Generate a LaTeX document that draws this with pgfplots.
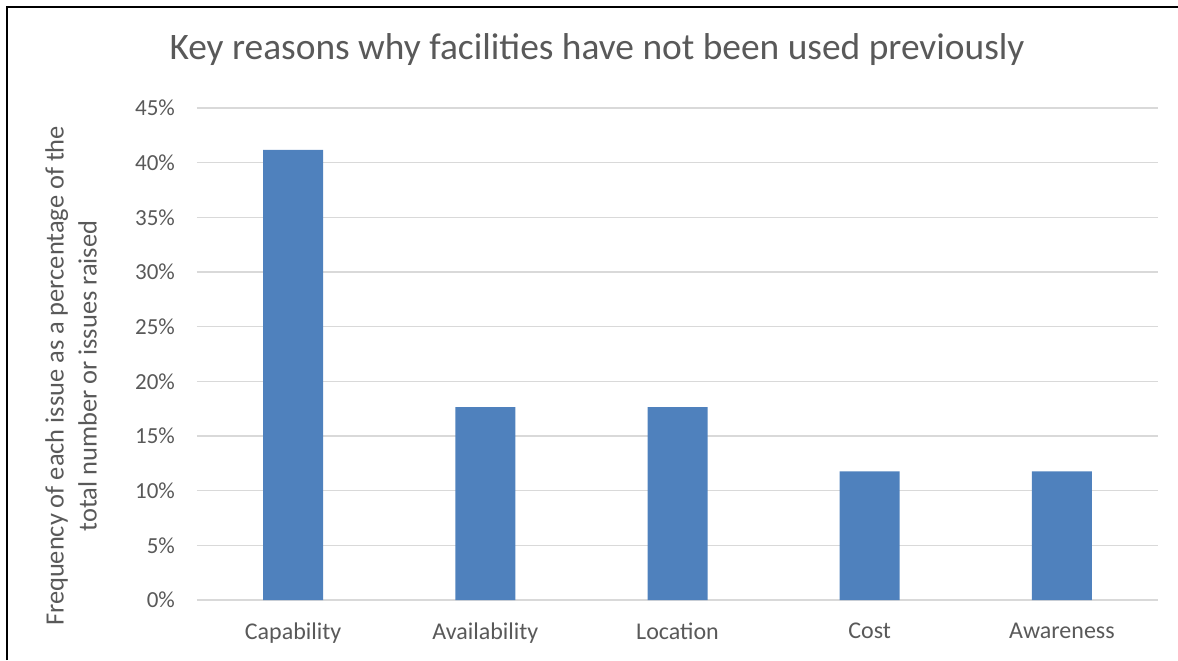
\documentclass[border=0pt]{standalone}
\usepackage{pgfplots}
\pgfplotsset{compat=1.18}
\usepackage{fontspec}
\setmainfont{Carlito}
\definecolor{barblue}{HTML}{4F81BD}
\definecolor{txtgray}{HTML}{595959}
\definecolor{gridgray}{HTML}{D9D9D9}

\begin{document}
\begin{tikzpicture}
    % picture frame in px scale (1px = 0.5pt), axis origin at (197,600)px
    \useasboundingbox (-98.5pt,-30pt) rectangle (490.5pt,300pt);
    \draw[line width=1pt, black] (-95pt,-30pt) -- (-95pt,296.5pt) -- (490.5pt,296.5pt);

    \begin{axis}[
        scale only axis,
        width=480.5pt, height=246pt,
        at={(0,0)}, anchor=south west,
        ymin=0, ymax=45,
        xmin=-0.5, xmax=4.5,
        ytick={0,5,...,45},
        xtick={0,1,2,3,4},
        xticklabels={Capability,Availability,Location,Cost,Awareness},
        yticklabel={\pgfmathprintnumber{\tick}\%},
        /pgf/number format/assume math mode=true,
        ymajorgrids=true,
        grid style={gridgray, line width=0.75pt},
        axis x line*=bottom,
        axis y line*=left,
        x axis line style={gridgray, line width=0.75pt, -},
        y axis line style={draw=none},
        major tick length=0pt,
        tick style={draw=none},
        ticklabel style={txtgray},
        yticklabel style={font=\fontsize{11.5}{13}\selectfont, xshift=-7.5pt},
        xticklabel style={font=\fontsize{12}{14}\selectfont, yshift=-8pt},
        clip=false,
    ]
        \addplot[ybar, bar width=30pt, fill=barblue, draw=none] coordinates {
            (0,41.18)(1,17.65)(2,17.65)(3,11.76)(4,11.76)
        };
    \end{axis}

    \node[txtgray, font=\fontsize{18.7}{21}\selectfont] at (200pt,275pt)
        {Key reasons why facilities have not been used previously};
    \node[txtgray, rotate=90, align=center, font=\fontsize{13.2}{16.5}\selectfont]
        at (-63pt,112pt)
        {Frequency of each issue as a percentage of the\\total number or issues raised};
\end{tikzpicture}
\end{document}
